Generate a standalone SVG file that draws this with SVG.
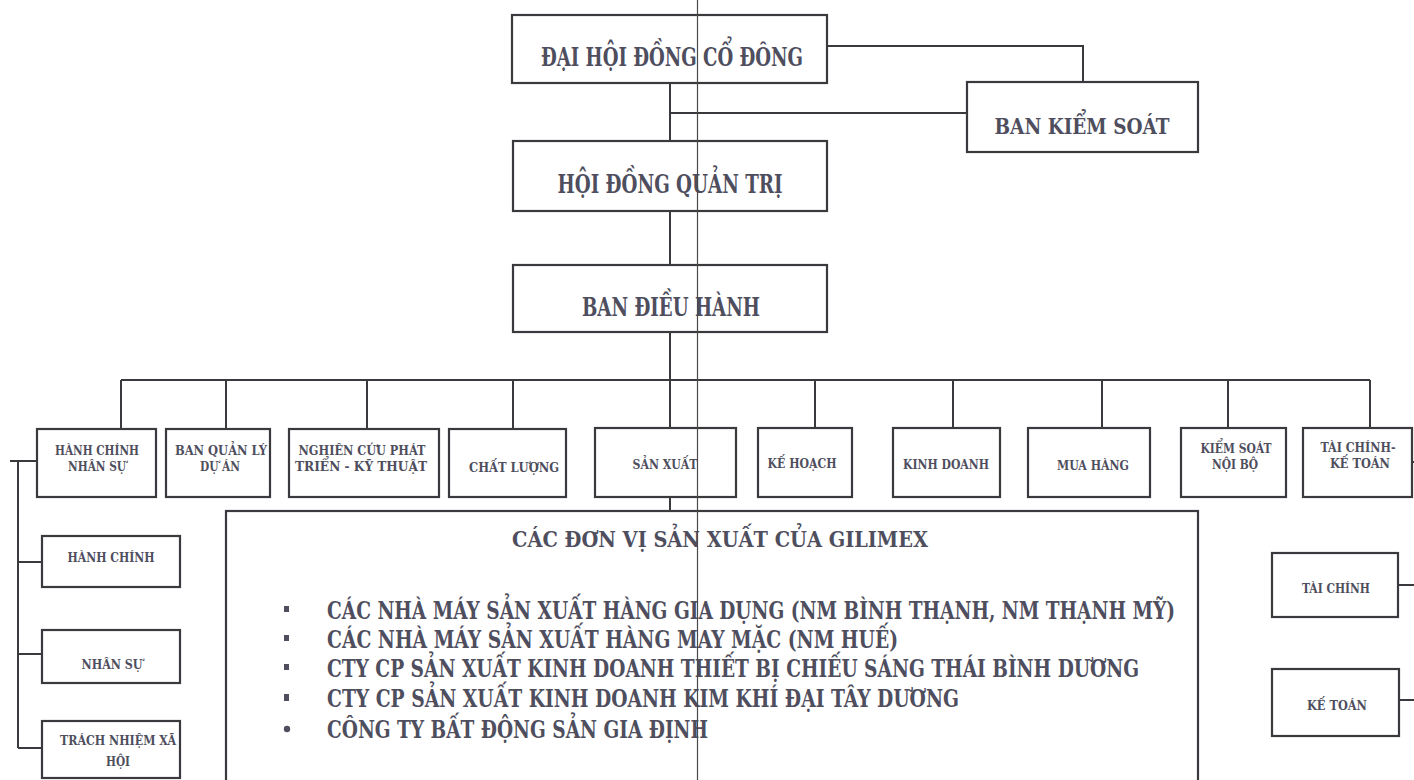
<svg xmlns="http://www.w3.org/2000/svg" width="1414" height="780" viewBox="0 0 1414 780">
<style>
.box{fill:#ffffff;stroke:#3a3a3e;stroke-width:2.2}
.ln{fill:none;stroke:#3a3a3e;stroke-width:2}
.t{font-family:"DejaVu Serif Condensed","Liberation Serif",serif;fill:#4e4e5e;text-anchor:middle;font-weight:bold}
.big{font-size:26px}
.mid{font-size:23px}
.sm{font-size:12px}
.bl{font-size:24px;text-anchor:start}
</style>
<rect width="1414" height="780" fill="#ffffff"/>
<g id="connectors">
<path class="ln" d="M827 46 H1083 V82"/>
<path class="ln" d="M670 83 V141"/>
<path class="ln" d="M670 113 H967"/>
<path class="ln" d="M670 211 V265"/>
<path class="ln" d="M670 332 V428"/>
<path class="ln" d="M121 380 H1370"/>
<path class="ln" d="M121 380 V429 M226 380 V429 M367 380 V429 M513 380 V429 M815 380 V428 M953 380 V428 M1102 380 V428 M1228 380 V428 M1370 380 V428"/>
<path class="ln" d="M670 497 V511"/>
<path class="ln" d="M10 461 H37 M18 461 V748 M18 562 H42 M18 654 H42 M18 748 H42"/>
<path class="ln" d="M1398 585 H1414 M1399 700 H1414 M1411 462 H1414"/>
</g>
<g id="n-daihoi"><rect class="box" x="512" y="15" width="315" height="68"/><text class="t big" x="672" y="66" textLength="262" lengthAdjust="spacingAndGlyphs">ĐẠI HỘI ĐỒNG CỔ ĐÔNG</text></g>
<g id="n-bks"><rect class="box" x="967" y="82" width="231" height="70"/><text class="t mid" x="1082" y="134" textLength="175" lengthAdjust="spacingAndGlyphs">BAN KIỂM SOÁT</text></g>
<g id="n-hdqt"><rect class="box" x="513" y="141" width="314" height="70"/><text class="t big" x="670" y="193" textLength="225" lengthAdjust="spacingAndGlyphs">HỘI ĐỒNG QUẢN TRỊ</text></g>
<g id="n-bdh"><rect class="box" x="513" y="265" width="314" height="67"/><text class="t big" x="671" y="316" textLength="178" lengthAdjust="spacingAndGlyphs">BAN ĐIỀU HÀNH</text></g>
<g id="n-hcns"><rect class="box" x="37" y="429" width="119" height="68"/><text class="t sm" x="97" y="455" textLength="84" lengthAdjust="spacingAndGlyphs">HÀNH CHÍNH</text><text class="t sm" x="97" y="471" textLength="58" lengthAdjust="spacingAndGlyphs">NHÂN SỰ</text></g>
<g id="n-bqlda"><rect class="box" x="166" y="429" width="104" height="68"/><text class="t sm" x="221" y="455" textLength="92" lengthAdjust="spacingAndGlyphs">BAN QUẢN LÝ</text><text class="t sm" x="220" y="471" textLength="40" lengthAdjust="spacingAndGlyphs">DỰ ÁN</text></g>
<g id="n-ncpt"><rect class="box" x="289" y="429" width="150" height="68"/><text class="t sm" x="362" y="455" textLength="127" lengthAdjust="spacingAndGlyphs">NGHIÊN CỨU PHÁT</text><text class="t sm" x="361" y="471" textLength="132" lengthAdjust="spacingAndGlyphs">TRIỂN  -  KỸ  THUẬT</text></g>
<g id="n-cl"><rect class="box" x="449" y="429" width="117" height="68"/><text class="t sm" x="514" y="472" textLength="90" lengthAdjust="spacingAndGlyphs">CHẤT LƯỢNG</text></g>
<g id="n-sx"><rect class="box" x="595" y="428" width="141" height="69"/><text class="t sm" x="665" y="469" textLength="65" lengthAdjust="spacingAndGlyphs">SẢN XUẤT</text></g>
<g id="n-kh"><rect class="box" x="758" y="428" width="94" height="69"/><text class="t sm" x="802" y="468" textLength="69" lengthAdjust="spacingAndGlyphs">KẾ HOẠCH</text></g>
<g id="n-kd"><rect class="box" x="893" y="428" width="107" height="69"/><text class="t sm" x="946" y="469" textLength="86" lengthAdjust="spacingAndGlyphs">KINH DOANH</text></g>
<g id="n-mh"><rect class="box" x="1028" y="428" width="122" height="69"/><text class="t sm" x="1093" y="470" textLength="72" lengthAdjust="spacingAndGlyphs">MUA HÀNG</text></g>
<g id="n-ksnb"><rect class="box" x="1181" y="428" width="105" height="69"/><text class="t sm" x="1236" y="453" textLength="71" lengthAdjust="spacingAndGlyphs">KIỂM SOÁT</text><text class="t sm" x="1235" y="469" textLength="46" lengthAdjust="spacingAndGlyphs">NỘI BỘ</text></g>
<g id="n-tckt"><rect class="box" x="1303" y="428" width="109" height="69"/><text class="t sm" x="1358" y="452" textLength="75" lengthAdjust="spacingAndGlyphs">TÀI CHÍNH-</text><text class="t sm" x="1360" y="468" textLength="60" lengthAdjust="spacingAndGlyphs">KẾ TOÁN</text></g>
<g id="n-hc"><rect class="box" x="42" y="536" width="138" height="51"/><text class="t sm" x="111" y="562" textLength="87" lengthAdjust="spacingAndGlyphs">HÀNH CHÍNH</text></g>
<g id="n-ns"><rect class="box" x="42" y="630" width="138" height="53"/><text class="t sm" x="112" y="669" textLength="61" lengthAdjust="spacingAndGlyphs">NHÂN SỰ</text></g>
<g id="n-tnxh"><rect class="box" x="42" y="721" width="138" height="57"/><text class="t sm" x="118" y="745" textLength="116" lengthAdjust="spacingAndGlyphs">TRÁCH NHIỆM XÃ</text><text class="t sm" x="118" y="766" textLength="24" lengthAdjust="spacingAndGlyphs">HỘI</text></g>
<g id="n-tc"><rect class="box" x="1272" y="553" width="126" height="64"/><text class="t sm" x="1336" y="593" textLength="68" lengthAdjust="spacingAndGlyphs">TÀI CHÍNH</text></g>
<g id="n-kt"><rect class="box" x="1272" y="669" width="127" height="67"/><text class="t sm" x="1337" y="710" textLength="60" lengthAdjust="spacingAndGlyphs">KẾ TOÁN</text></g>
<g id="n-dvsx">
<rect class="box" x="226" y="511" width="972" height="275"/>
<text class="t mid" x="720" y="547" textLength="416" lengthAdjust="spacingAndGlyphs">CÁC ĐƠN VỊ SẢN XUẤT CỦA GILIMEX</text>
<g fill="#4e4e5e"><rect x="284" y="606" width="5" height="6"/><rect x="284" y="635" width="5" height="6"/><rect x="284" y="664" width="5" height="6"/><rect x="284" y="694" width="5" height="7"/><circle cx="287" cy="729" r="3.2"/></g>
<text class="t bl" x="327" y="619" textLength="848" lengthAdjust="spacingAndGlyphs">CÁC NHÀ MÁY SẢN XUẤT HÀNG GIA DỤNG (NM BÌNH THẠNH, NM THẠNH MỸ)</text>
<text class="t bl" x="327" y="648" textLength="571" lengthAdjust="spacingAndGlyphs">CÁC NHÀ MÁY SẢN XUẤT HÀNG MAY MẶC (NM HUẾ)</text>
<text class="t bl" x="327" y="677" textLength="812" lengthAdjust="spacingAndGlyphs">CTY CP SẢN XUẤT KINH DOANH THIẾT BỊ CHIẾU SÁNG THÁI BÌNH DƯƠNG</text>
<text class="t bl" x="327" y="707" textLength="632" lengthAdjust="spacingAndGlyphs">CTY CP SẢN XUẤT KINH DOANH KIM KHÍ ĐẠI TÂY DƯƠNG</text>
<text class="t bl" x="327" y="738" textLength="381" lengthAdjust="spacingAndGlyphs">CÔNG TY BẤT ĐỘNG SẢN GIA ĐỊNH</text>
</g>
<line x1="697.5" y1="0" x2="697.5" y2="780" stroke="#4a4a4a" stroke-width="1.2"/>
</svg>
